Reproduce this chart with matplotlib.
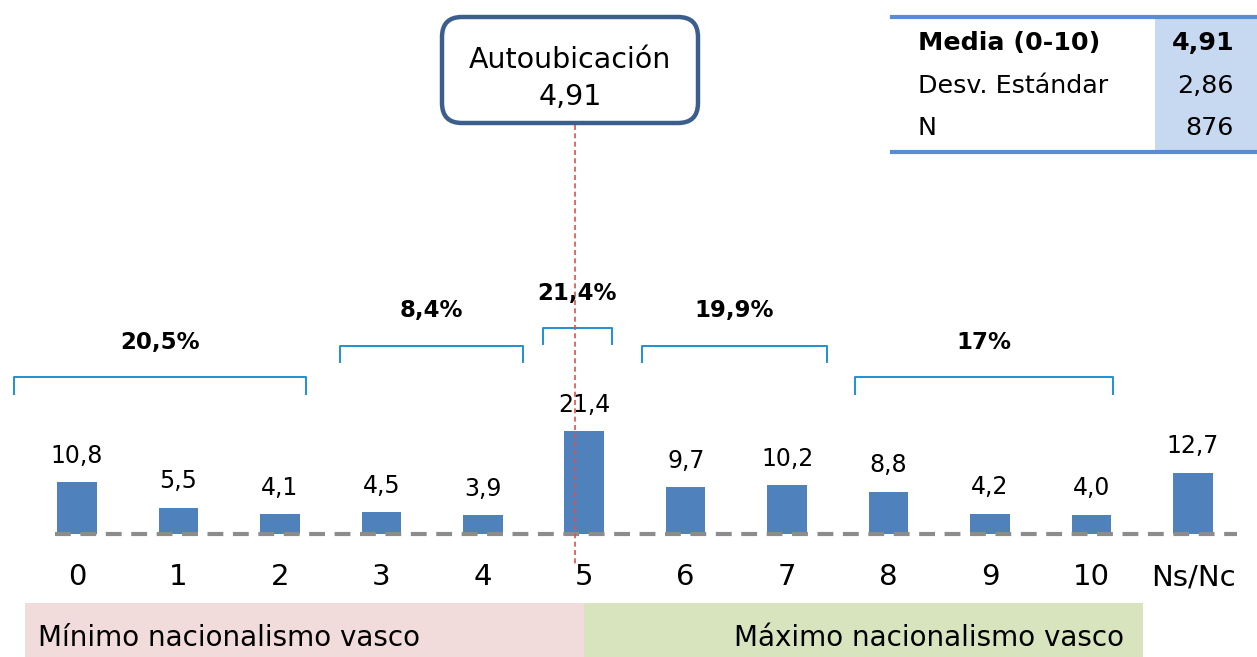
import matplotlib.pyplot as plt
from matplotlib.patches import FancyBboxPatch, Rectangle
from matplotlib.transforms import IdentityTransform

# Data
categories = ['0', '1', '2', '3', '4', '5', '6', '7', '8', '9', '10', 'Ns/Nc']
values = [10.8, 5.5, 4.1, 4.5, 3.9, 21.4, 9.7, 10.2, 8.8, 4.2, 4.0, 12.7]
value_labels = ['10,8', '5,5', '4,1', '4,5', '3,9', '21,4', '9,7', '10,2', '8,8', '4,2', '4,0', '12,7']
group_labels = ['20,5%', '8,4%', '21,4%', '19,9%', '17%']
group_ranges = [(0, 2), (3, 4), (5, 5), (6, 7), (8, 10)]
mean_value = 4.91
stats_names = ['Media (0-10)', 'Desv. Estándar', 'N']
stats_values = ['4,91', '2,86', '876']

W, H = 1257, 657
fig = plt.figure(figsize=(W / 100, H / 100), dpi=100)
ax = fig.add_axes([0, 0, 1, 1])

# pixel -> data mapping: category i at x=77+101.45*i, baseline at y=534, 4.81 px per unit
sx, sy = 101.45, 4.81
ax.set_xlim(-77 / sx, (W - 77) / sx)
ax.set_ylim(-(H - 534) / sy, 534 / sy)
ax.axis('off')

def fx(px):
    return px / W

def fy(py):
    return 1 - py / H

x = list(range(len(categories)))
ax.bar(x, values, width=0.39, color='#4F81BD', zorder=2)
for xi, v, lab in zip(x, values, value_labels):
    ax.text(xi, v + 3.0, lab, ha='center', va='bottom', fontsize=17, color='black')

# dashed baseline
ax.plot([-0.22, (1237 - 77) / sx], [0, 0], color='#8C8C8C', lw=3, dashes=(3.8, 2.3), zorder=3)

# tick labels
for xi, c in zip(x, categories):
    ax.text(xi, -9.0, c, ha='center', va='center', fontsize=21)

# group brackets
br_extents = [(-0.62, 2.26), (2.59, 4.40), (4.59, 5.27), (5.57, 7.39), (7.67, 10.21)]
br_heights = [32.6, 39.1, 42.8, 39.1, 32.6]
for (a, b), h, lab in zip(br_extents, br_heights, group_labels):
    ax.plot([a, a, b, b], [h - 3.4, h, h, h - 3.4], color='#1F8FD0', lw=1.4,
            solid_joinstyle='round', zorder=2)
    ax.text((a + b) / 2, h + 7.3, lab, ha='center', va='center', fontsize=16.5,
            fontweight='bold')

# mean line
ax.plot([mean_value, mean_value], [(534 - 125) / sy, -(565 - 534) / sy],
        color='#D9534F', lw=1.2, dashes=(3, 2), zorder=4)

# Autoubicación box (display pixels, origin bottom-left)
box = FancyBboxPatch((442, H - 123), 256, 106,
                     boxstyle='round,pad=0,rounding_size=20',
                     transform=IdentityTransform(), facecolor='white',
                     edgecolor='#3B5E8C', lw=3.2)
fig.patches.append(box)
fig.text(fx(570), fy(60), 'Autoubicación', ha='center', va='center', fontsize=20.5)
fig.text(fx(570), fy(97), '4,91', ha='center', va='center', fontsize=20.5)

# Stats table
fig.patches.append(Rectangle((fx(1155), fy(151)), fx(W - 1155), fy(19) - fy(151),
                             transform=fig.transFigure, facecolor='#C6D9F1', edgecolor='none'))
for py in (17, 152):
    fig.add_artist(plt.Line2D([fx(892), 1], [fy(py), fy(py)], color='#558ED5', lw=3,
                              transform=fig.transFigure))
row_y = [43, 86, 128]
for i, (n, v) in enumerate(zip(stats_names, stats_values)):
    w = 'bold' if i == 0 else 'normal'
    fig.text(fx(918), fy(row_y[i]), n, ha='left', va='center', fontsize=18.3, fontweight=w)
    fig.text(fx(1234), fy(row_y[i]), v, ha='right', va='center', fontsize=18.3, fontweight=w)

# bottom bands
fig.patches.append(Rectangle((fx(25), 0), fx(584 - 25), fy(603), transform=fig.transFigure,
                             facecolor='#F2DCDB', edgecolor='none'))
fig.patches.append(Rectangle((fx(584), 0), fx(1143 - 584), fy(603), transform=fig.transFigure,
                             facecolor='#D7E4BD', edgecolor='none'))
fig.text(fx(38), fy(638), 'Mínimo nacionalismo vasco', ha='left', va='center', fontsize=20)
fig.text(fx(1124), fy(638), 'Máximo nacionalismo vasco', ha='right', va='center', fontsize=20)

fig.savefig('out.png', dpi=100)
